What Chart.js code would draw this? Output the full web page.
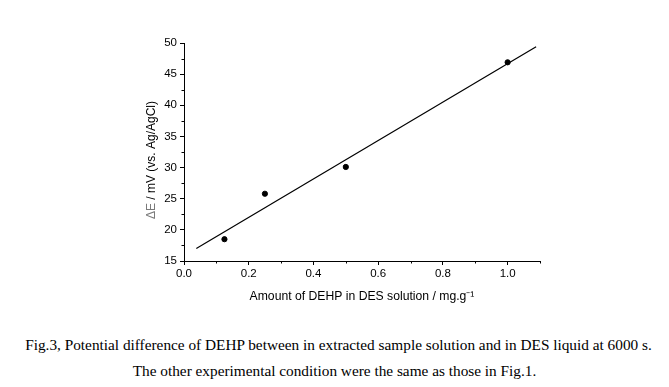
<!DOCTYPE html>
<html><head><meta charset="utf-8">
<script src="https://cdn.jsdelivr.net/npm/chart.js@4"></script>
<style>
html,body{margin:0;padding:0;background:#fff;width:669px;height:387px;overflow:hidden}
#wrap{position:absolute;left:0;top:0;width:669px;height:304px}
.cap{position:absolute;left:0;width:669px;text-align:center;font-family:"Liberation Serif","Times New Roman",serif;font-size:15.3px;color:#000;white-space:nowrap}
</style></head><body>
<div id="wrap"><canvas id="c" width="669" height="304"></canvas></div>
<div class="cap" id="cap1" style="top:336px;left:4px"></div>
<div class="cap" id="cap2" style="top:362px"></div>
<script>
const amounts = [0.125, 0.25, 0.5, 1.0];
const deltaE = [18.5, 25.8, 30.1, 46.9];
const fitX = [0.038, 1.088];
const fitY = [17.0, 49.4];
const xTicks = [0.0, 0.2, 0.4, 0.6, 0.8, 1.0];
const xMinor = [0.1, 0.3, 0.5, 0.7, 0.9, 1.1];
const yTicks = [15, 20, 25, 30, 35, 40, 45, 50];
const yMinor = [17.5, 22.5, 27.5, 32.5, 37.5, 42.5, 47.5];
const xTitle = "Amount of DEHP in DES solution / mg.g\u207B\u00B9";
const yTitleSymbol = "\u0394E";
const yTitleRest = " / mV (vs. Ag/AgCl)";
const caption1 = "Fig.3, Potential difference of DEHP between in extracted sample solution and in DES liquid at 6000 s.";
const caption2 = "The other experimental condition were the same as those in Fig.1.";

document.getElementById('cap1').textContent = caption1;
document.getElementById('cap2').textContent = caption2;

const FONT = 'Liberation Sans, Arial, sans-serif';

const extras = {
  id: 'extras',
  afterDraw(chart) {
    const ctx = chart.ctx, xs = chart.scales.x, ys = chart.scales.y;
    ctx.save();
    ctx.strokeStyle = '#000';
    ctx.lineWidth = 1;
    ctx.beginPath();
    xMinor.forEach(v => {
      const px = Math.round(xs.getPixelForValue(v)) + 0.5;
      ctx.moveTo(px, ys.bottom); ctx.lineTo(px, ys.bottom + 2.5);
    });
    yMinor.forEach(v => {
      const py = Math.round(ys.getPixelForValue(v)) + 0.5;
      ctx.moveTo(xs.left, py); ctx.lineTo(xs.left - 2.5, py);
    });
    ctx.stroke();
    ctx.font = '12px ' + FONT;
    const w1 = ctx.measureText(yTitleSymbol).width;
    const w2 = ctx.measureText(yTitleRest).width;
    const cy = (ys.top + ys.bottom) / 2 + 8;
    ctx.translate(152, cy);
    ctx.rotate(-Math.PI / 2);
    ctx.textBaseline = 'middle';
    ctx.textAlign = 'left';
    const start = -(w1 + w2) / 2;
    ctx.fillStyle = '#7a7a7a';
    ctx.fillText(yTitleSymbol, start, 0);
    ctx.fillStyle = '#000';
    ctx.fillText(yTitleRest, start + w1, 0);
    ctx.restore();
  }
};

new Chart(document.getElementById('c'), {
  type: 'scatter',
  data: {
    datasets: [
      {
        data: amounts.map((x, i) => ({x, y: deltaE[i]})),
        backgroundColor: '#000', borderColor: '#000',
        pointRadius: 2.6, pointHoverRadius: 2.6, showLine: false
      },
      {
        data: fitX.map((x, i) => ({x, y: fitY[i]})),
        borderColor: '#000', borderWidth: 1.2, pointRadius: 0, showLine: true, fill: false
      }
    ]
  },
  options: {
    responsive: false, animation: false, devicePixelRatio: 1,
    layout: { padding: { left: 145, right: 129, top: 43, bottom: 0 } },
    plugins: { legend: { display: false }, tooltip: { enabled: false } },
    scales: {
      x: {
        type: 'linear', min: 0, max: 1.1,
        afterBuildTicks: s => { s.ticks = xTicks.map(v => ({value: v})); },
        afterFit: s => { s.height = 43; },
        grid: { display: true, drawOnChartArea: false, drawTicks: true, tickLength: 4, color: '#000', tickColor: '#000' },
        border: { display: true, color: '#000', width: 1 },
        ticks: { color: '#000', padding: 2, font: { family: FONT, size: 11.5 }, callback: v => Number(v).toFixed(1), maxRotation: 0 },
        title: { display: true, text: xTitle, color: '#000', padding: 0, font: { family: FONT, size: 12.2 } }
      },
      y: {
        type: 'linear', min: 15, max: 50,
        afterBuildTicks: s => { s.ticks = yTicks.map(v => ({value: v})); },
        afterFit: s => { s.width = 39; },
        grid: { display: true, drawOnChartArea: false, drawTicks: true, tickLength: 4, color: '#000', tickColor: '#000' },
        border: { display: true, color: '#000', width: 1 },
        ticks: { color: '#000', padding: 3, font: { family: FONT, size: 11.5 } },
        title: { display: false }
      }
    }
  },
  plugins: [extras]
});
</script>
</body></html>
